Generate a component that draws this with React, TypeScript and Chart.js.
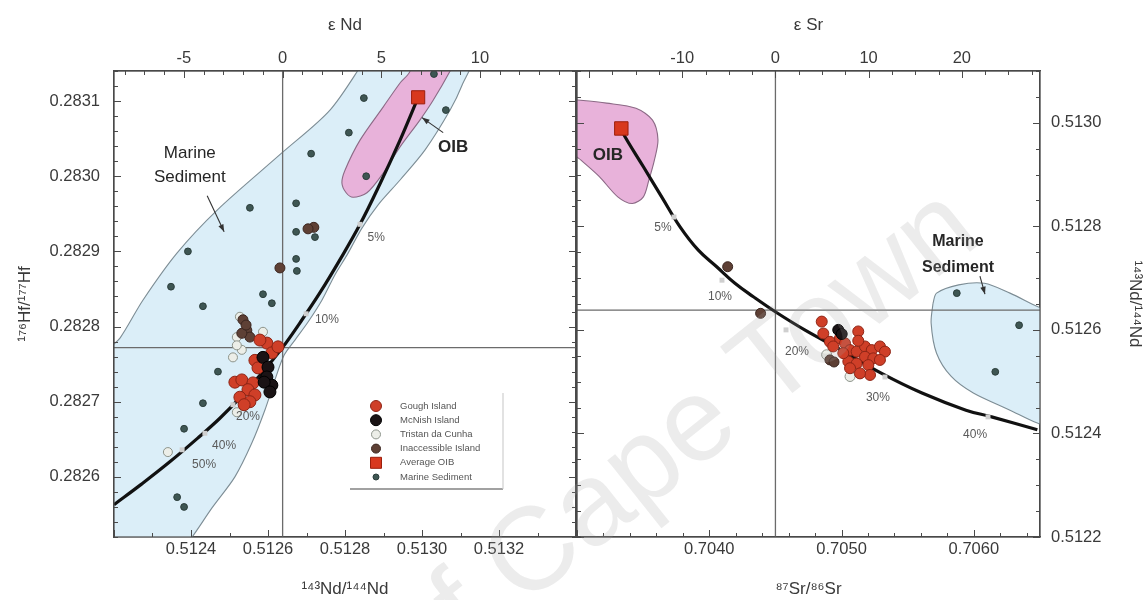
import { useEffect, useRef } from 'react';
import { Chart, registerables } from 'chart.js';

Chart.register(...registerables);

type Pt = [number, number];

const FONT = '"Liberation Sans", Arial, Helvetica, sans-serif';
const TEXT = '#3a3a3a';
const AXIS = '#4a4a4a';

// Bulk-earth reference ratios (cross-hairs and epsilon axes)
const CHUR_ND = 0.512638;
const CHUR_HF = 0.282772;
const BULK_SR = 0.7045;

// Axis ranges
const ndRangeLeft: Pt = [0.5122, 0.5134];
const hfRange: Pt = [0.28252, 0.28314];
const srRange: Pt = [0.703, 0.7065];
const ndRangeRight: Pt = [0.5122, 0.5131];

// Labelled tick values
const ndTicks = [0.5124, 0.5126, 0.5128, 0.513, 0.5132];
const hfTicks = [0.2826, 0.2827, 0.2828, 0.2829, 0.283, 0.2831];
const srTicks = [0.704, 0.705, 0.706];
const ndRightTicks = [0.5122, 0.5124, 0.5126, 0.5128, 0.513];
const epsNdTicks = [-5, 0, 5, 10];
const epsSrTicks = [-10, 0, 10, 20];

// ---- Hf–Nd panel: [143Nd/144Nd, 176Hf/177Hf] ----
const goughHfNd: Pt[] = [
  [0.512597, 0.282778], [0.51261, 0.282765], [0.512626, 0.282773], [0.512579, 0.282782],
  [0.512566, 0.282755], [0.512574, 0.282745], [0.512514, 0.282726], [0.512532, 0.282729],
  [0.512561, 0.282725], [0.512548, 0.282716], [0.512527, 0.282706], [0.512566, 0.282709],
  [0.512553, 0.2827], [0.512538, 0.282696],
];
const mcnishHfNd: Pt[] = [
  [0.512587, 0.282759], [0.5126, 0.282746], [0.512597, 0.282733],
  [0.51261, 0.282722], [0.51259, 0.282726], [0.512605, 0.282713],
];
const tristanHfNd: Pt[] = [
  [0.512527, 0.282813], [0.512519, 0.282786], [0.512509, 0.282759], [0.512532, 0.282769],
  [0.512587, 0.282793], [0.512519, 0.282775], [0.51234, 0.282633], [0.512519, 0.282686],
];
const inaccessibleHfNd: Pt[] = [
  [0.512535, 0.282809], [0.512545, 0.282795], [0.512553, 0.282786], [0.512532, 0.282791],
  [0.512543, 0.282802], [0.512631, 0.282878], [0.512719, 0.282932], [0.512704, 0.28293],
];
const oibHfNd: Pt[] = [[0.51299, 0.283105]];
const sedimentHfNd: Pt[] = [
  [0.513031, 0.283136], [0.512849, 0.283104], [0.513062, 0.283088], [0.51281, 0.283058],
  [0.512712, 0.28303], [0.512855, 0.283], [0.512553, 0.282958], [0.512673, 0.282964],
  [0.512673, 0.282926], [0.512722, 0.282919], [0.512392, 0.2829], [0.512673, 0.28289],
  [0.512675, 0.282874], [0.512348, 0.282853], [0.512587, 0.282843], [0.51261, 0.282831],
  [0.512431, 0.282827], [0.51247, 0.28274], [0.512431, 0.282698], [0.512382, 0.282664],
  [0.512364, 0.282573], [0.512382, 0.28256],
];
const mixingHfNd: Pt[] = [
  [0.51299, 0.283105], [0.512943, 0.283048], [0.512891, 0.28299], [0.512839, 0.282936],
  [0.512787, 0.282889], [0.512735, 0.282845], [0.512683, 0.282805], [0.512636, 0.282771],
  [0.512579, 0.282735], [0.512527, 0.282705], [0.512475, 0.282678], [0.512423, 0.282654],
  [0.512345, 0.28262], [0.512268, 0.282589], [0.5122, 0.282563],
];
const mixingMarksHfNd: Pt[] = [
  [0.512839, 0.282936], [0.512699, 0.282817], [0.512509, 0.282696],
  [0.512436, 0.282658], [0.512377, 0.282636],
];
const sedimentFieldHfNd: Pt[] = [
  [0.512852, 0.283155], [0.513125, 0.283155], [0.513104, 0.283121], [0.513073, 0.283088],
  [0.513008, 0.283035], [0.512943, 0.282995], [0.512886, 0.282962], [0.512844, 0.282931],
  [0.512805, 0.282895], [0.512774, 0.282869], [0.51274, 0.282835], [0.512704, 0.282806],
  [0.51267, 0.282782], [0.512642, 0.282762], [0.512618, 0.282729], [0.512592, 0.282689],
  [0.512558, 0.282645], [0.512514, 0.2826], [0.512455, 0.282559], [0.512403, 0.28252],
  [0.512366, 0.282496], [0.512164, 0.282496], [0.512164, 0.282755], [0.512216, 0.282785],
  [0.512275, 0.282835], [0.512364, 0.282898], [0.512468, 0.282955], [0.512636, 0.283031],
  [0.512761, 0.283088], [0.512852, 0.283155],
];
const oibFieldHfNd: Pt[] = [
  [0.512956, 0.283155], [0.512969, 0.28314], [0.512943, 0.283124], [0.512899, 0.283092],
  [0.512839, 0.283048], [0.5128, 0.283008], [0.512792, 0.282991], [0.512803, 0.282978],
  [0.512821, 0.282972], [0.512857, 0.282978], [0.512899, 0.283004], [0.512943, 0.283039],
  [0.512995, 0.283075], [0.513029, 0.283101], [0.513073, 0.28314], [0.513086, 0.283155],
  [0.512956, 0.283155],
];

// ---- Nd–Sr panel: [87Sr/86Sr, 143Nd/144Nd] ----
const goughSrNd: Pt[] = [
  [0.70485, 0.512616], [0.704862, 0.512593], [0.704912, 0.512577], [0.704988, 0.512584],
  [0.705026, 0.512574], [0.705126, 0.512597], [0.705064, 0.512561], [0.705114, 0.512558],
  [0.705177, 0.512568], [0.705228, 0.512561], [0.70529, 0.512568], [0.705328, 0.512558],
  [0.705177, 0.512548], [0.70524, 0.512545], [0.70529, 0.512542], [0.705051, 0.512539],
  [0.705114, 0.512535], [0.705202, 0.512532], [0.705064, 0.512526], [0.705215, 0.512513],
  [0.705139, 0.512516], [0.704937, 0.512568], [0.705013, 0.512555], [0.705126, 0.512579],
];
const mcnishSrNd: Pt[] = [[0.704975, 0.5126], [0.705001, 0.512592]];
const tristanSrNd: Pt[] = [[0.705064, 0.51251], [0.704887, 0.512552]];
const inaccessibleSrNd: Pt[] = [
  [0.704139, 0.512722], [0.704388, 0.512632], [0.704912, 0.512542], [0.704943, 0.512538],
];
const oibSrNd: Pt[] = [[0.703335, 0.512989]];
const sedimentSrNd: Pt[] = [[0.705871, 0.512671], [0.706342, 0.512609], [0.706162, 0.512519]];
const mixingSrNd: Pt[] = [
  [0.703335, 0.512989], [0.703363, 0.512973], [0.703502, 0.512915], [0.70364, 0.512857],
  [0.703779, 0.512799], [0.703917, 0.512754], [0.704056, 0.512722], [0.704194, 0.51269],
  [0.704333, 0.512664], [0.704499, 0.512635], [0.704721, 0.5126], [0.704998, 0.512561],
  [0.705303, 0.512516], [0.705608, 0.512478], [0.70594, 0.512445], [0.706134, 0.512432],
  [0.70648, 0.512407],
];
const mixingMarksSrNd: Pt[] = [
  [0.703733, 0.512818], [0.704096, 0.512696], [0.70458, 0.5126],
  [0.705328, 0.512509], [0.706107, 0.512432],
];
const oibFieldSrNd: Pt[] = [
  [0.702975, 0.513044], [0.703003, 0.513044], [0.703224, 0.513038], [0.703446, 0.513028],
  [0.703571, 0.513005], [0.703612, 0.512967], [0.703585, 0.512928], [0.703543, 0.512889],
  [0.703502, 0.512857], [0.703418, 0.512844], [0.703308, 0.512857], [0.703169, 0.512896],
  [0.70303, 0.512928], [0.702975, 0.512941], [0.702975, 0.513044],
];
const sedimentFieldSrNd: Pt[] = [
  [0.705691, 0.512651], [0.705718, 0.512671], [0.705885, 0.512687], [0.706079, 0.51269],
  [0.706273, 0.512671], [0.70648, 0.512645], [0.706605, 0.512632], [0.706605, 0.512413],
  [0.70648, 0.51242], [0.706273, 0.512445], [0.705996, 0.512478], [0.705829, 0.51251],
  [0.705718, 0.512555], [0.705677, 0.512613], [0.705691, 0.512651],
];

// Mixing-proportion labels
const percentLabelsHfNd: { text: string; at: Pt }[] = [
  { text: '5%', at: [0.512881, 0.282918] },
  { text: '10%', at: [0.512753, 0.282809] },
  { text: '20%', at: [0.512548, 0.28268] },
  { text: '40%', at: [0.512486, 0.282642] },
  { text: '50%', at: [0.512434, 0.282616] },
];
const percentLabelsSrNd: { text: string; at: Pt }[] = [
  { text: '5%', at: [0.70365, 0.512797] },
  { text: '10%', at: [0.704081, 0.512664] },
  { text: '20%', at: [0.704663, 0.512557] },
  { text: '30%', at: [0.705275, 0.51247] },
  { text: '40%', at: [0.706009, 0.512397] },
];

const legendOrder = [
  'Gough Island', 'McNish Island', 'Tristan da Cunha',
  'Inaccessible Island', 'Average OIB', 'Marine Sediment',
];

const epsNd = (r: number) => (r / CHUR_ND - 1) * 1e4;
const epsSr = (r: number) => (r / BULK_SR - 1) * 1e4;

const COLORS = {
  gough: ['#cf3f28', '#8e2415'],
  mcnish: ['#1a1315', '#000000'],
  tristan: ['#eceee8', '#8d948b'],
  inaccessible: ['#5e4035', '#3b2620'],
  oib: ['#d8381e', '#9c1f0c'],
  sediment: ['#3e5653', '#2c3e3c'],
  sedField: ['#dbeef8', '#7d8d95'],
  oibField: ['#e8b2da', '#8c6a86'],
};

const toXY = (pts: Pt[]) => pts.map(([x, y]) => ({ x, y }));

function pointSet(label: string, pts: Pt[], c: string[], radius: number, legendRadius: number, style = 'circle', order = 1) {
  return {
    label, data: toXY(pts), showLine: false, pointStyle: style, pointRadius: radius,
    backgroundColor: c[0], borderColor: c[1], pointBorderWidth: 1, borderWidth: 1,
    order, legendRadius, xAxisID: 'x', yAxisID: 'y',
  };
}
function lineSet(label: string, pts: Pt[], color: string, width: number, order: number, tension = 0) {
  return {
    label, data: toXY(pts), showLine: true, pointRadius: 0, borderColor: color,
    borderWidth: width, tension, fill: false, order, xAxisID: 'x', yAxisID: 'y',
  };
}
function fieldSet(label: string, pts: Pt[], c: string[], order: number) {
  return {
    label, data: toXY(pts), showLine: true, pointRadius: 0, backgroundColor: c[0],
    borderColor: c[1], borderWidth: 1.1, tension: 0.3, fill: 'shape', order,
    xAxisID: 'x', yAxisID: 'y',
  };
}
function marksSet(pts: Pt[]) {
  return {
    label: 'marks', data: toXY(pts), showLine: false, pointStyle: 'rect', pointRadius: 3.5,
    backgroundColor: '#cfcfcf', borderColor: '#cfcfcf', borderWidth: 0, order: 2,
    xAxisID: 'x', yAxisID: 'y',
  };
}

const tickFont = { family: FONT, size: 16.5 };
const titleFont = { family: FONT, size: 17 };

function scale(
  position: string, min: number, max: number, size: number, values: number[],
  format: (v: number) => string, title: string | null, titlePad: any, tickPad: number,
) {
  const horizontal = position === 'top' || position === 'bottom';
  return {
    type: 'linear', position, min, max,
    afterFit: (s: any) => { if (horizontal) s.height = size; else s.width = size; },
    afterBuildTicks: (s: any) => { s.ticks = values.map((value) => ({ value })); },
    grid: { display: false, drawTicks: false },
    border: { display: true, color: AXIS, width: 1.2 },
    ticks: {
      display: values.length > 0, autoSkip: false, maxRotation: 0, minRotation: 0,
      padding: tickPad, color: TEXT, font: tickFont, callback: (v: any) => format(Number(v)),
    },
    title: { display: !!title, text: title || '', color: TEXT, font: titleFont, padding: titlePad },
  };
}

const fixed4 = (v: number) => v.toFixed(4);
const whole = (v: number) => String(Math.round(v));

type TickSpec = { scale: string; side: 'top' | 'bottom' | 'left' | 'right'; step: number; majorEvery: number };

// Inward-pointing major/minor tick marks plus the frame, drawn over the data
function inwardTicks(specs: TickSpec[]) {
  return {
    id: 'inwardTicks',
    afterDatasetsDraw(chart: any) {
      const { ctx, chartArea: a } = chart;
      ctx.save();
      ctx.strokeStyle = AXIS;
      ctx.lineWidth = 1;
      ctx.beginPath();
      for (const sp of specs) {
        const s = chart.scales[sp.scale];
        const i0 = Math.ceil(s.min / sp.step - 1e-6);
        const i1 = Math.floor(s.max / sp.step + 1e-6);
        for (let i = i0; i <= i1; i++) {
          const len = Math.abs(i % sp.majorEvery) === 0 ? 7 : 4;
          const p = Math.round(s.getPixelForValue(i * sp.step)) + 0.5;
          if (sp.side === 'bottom') { ctx.moveTo(p, a.bottom); ctx.lineTo(p, a.bottom - len); }
          if (sp.side === 'top') { ctx.moveTo(p, a.top); ctx.lineTo(p, a.top + len); }
          if (sp.side === 'left') { ctx.moveTo(a.left, p); ctx.lineTo(a.left + len, p); }
          if (sp.side === 'right') { ctx.moveTo(a.right, p); ctx.lineTo(a.right - len, p); }
        }
      }
      ctx.stroke();
      ctx.lineWidth = 1.2;
      ctx.strokeRect(a.left, a.top, a.right - a.left, a.bottom - a.top);
      ctx.restore();
    },
  };
}

type Note = { text: string; at: Pt; font: string; color: string };
type Arrow = { from: Pt; to: Pt };

function annotations(notes: Note[], arrows: Arrow[]) {
  return {
    id: 'annotations',
    afterDatasetsDraw(chart: any) {
      const { ctx } = chart;
      const xs = chart.scales.x;
      const ys = chart.scales.y;
      const px = (p: Pt) => [xs.getPixelForValue(p[0]), ys.getPixelForValue(p[1])];
      ctx.save();
      ctx.textAlign = 'center';
      ctx.textBaseline = 'middle';
      for (const n of notes) {
        const [x, y] = px(n.at);
        ctx.font = n.font;
        ctx.fillStyle = n.color;
        ctx.fillText(n.text, x, y);
      }
      ctx.strokeStyle = '#333';
      ctx.fillStyle = '#333';
      ctx.lineWidth = 1.1;
      for (const ar of arrows) {
        const [x1, y1] = px(ar.from);
        const [x2, y2] = px(ar.to);
        ctx.beginPath();
        ctx.moveTo(x1, y1);
        ctx.lineTo(x2, y2);
        ctx.stroke();
        const ang = Math.atan2(y2 - y1, x2 - x1);
        ctx.beginPath();
        ctx.moveTo(x2, y2);
        ctx.lineTo(x2 - 8 * Math.cos(ang - 0.35), y2 - 8 * Math.sin(ang - 0.35));
        ctx.lineTo(x2 - 8 * Math.cos(ang + 0.35), y2 - 8 * Math.sin(ang + 0.35));
        ctx.closePath();
        ctx.fill();
      }
      ctx.restore();
    },
  };
}

// Symbol key in the lower-right of the Hf–Nd panel
const sampleLegend = {
  id: 'sampleLegend',
  afterDatasetsDraw(chart: any) {
    const { ctx, chartArea: a } = chart;
    const x0 = a.left + 262;
    const y0 = a.top + 335;
    const step = 14.2;
    ctx.save();
    legendOrder.forEach((label, i) => {
      const ds = chart.data.datasets.find((d: any) => d.label === label);
      if (!ds) return;
      const y = y0 + i * step;
      const r = ds.legendRadius;
      ctx.fillStyle = ds.backgroundColor;
      ctx.strokeStyle = ds.borderColor;
      ctx.lineWidth = 1;
      ctx.beginPath();
      if (ds.pointStyle === 'rect') ctx.rect(x0 - r, y - r, 2 * r, 2 * r);
      else ctx.arc(x0, y, r, 0, Math.PI * 2);
      ctx.fill();
      ctx.stroke();
      ctx.fillStyle = '#555';
      ctx.font = `9.5px ${FONT}`;
      ctx.textBaseline = 'middle';
      ctx.textAlign = 'left';
      ctx.fillText(label, x0 + 24, y);
    });
    ctx.strokeStyle = '#444';
    ctx.lineWidth = 1.2;
    ctx.beginPath();
    ctx.moveTo(a.left + 236, a.top + 418);
    ctx.lineTo(a.left + 389, a.top + 418);
    ctx.stroke();
    ctx.strokeStyle = '#cfcfcf';
    ctx.beginPath();
    ctx.moveTo(a.left + 389, a.top + 322);
    ctx.lineTo(a.left + 389, a.top + 418);
    ctx.stroke();
    ctx.restore();
  },
};

// Faint diagonal archive stamp across both panels
const stamp = {
  id: 'stamp',
  afterDraw(chart: any) {
    const { ctx } = chart;
    ctx.save();
    ctx.translate(522, 608);
    ctx.rotate((-38.5 * Math.PI) / 180);
    ctx.font = `118px ${FONT}`;
    ctx.fillStyle = 'rgba(160,160,160,0.2)';
    ctx.textBaseline = 'alphabetic';
    const lead = ctx.measureText('University of ').width;
    ctx.fillText('University of Cape Town', -lead, 0);
    ctx.restore();
  },
};

const notePct = (p: { text: string; at: Pt }): Note => ({ text: p.text, at: p.at, font: `12px ${FONT}`, color: '#5a5a5a' });

const baseOptions = {
  responsive: false, animation: false, events: [],
  plugins: { legend: { display: false }, tooltip: { enabled: false } },
};

function leftConfig(): any {
  const datasets = [
    pointSet('Average OIB', oibHfNd, COLORS.oib, 9.3, 5.5, 'rect', 0),
    pointSet('McNish Island', mcnishHfNd, COLORS.mcnish, 6, 5.5, 'circle', 1),
    pointSet('Gough Island', goughHfNd, COLORS.gough, 6, 5.5, 'circle', 1),
    pointSet('Inaccessible Island', inaccessibleHfNd, COLORS.inaccessible, 5, 4.5, 'circle', 1),
    pointSet('Tristan da Cunha', tristanHfNd, COLORS.tristan, 4.5, 4.5, 'circle', 1),
    pointSet('Marine Sediment', sedimentHfNd, COLORS.sediment, 3.4, 3, 'circle', 1),
    marksSet(mixingMarksHfNd),
    lineSet('mixing', mixingHfNd, '#111', 3.2, 3, 0.4),
    lineSet('chur-nd', [[CHUR_ND, hfRange[0]], [CHUR_ND, hfRange[1]]], '#6b6b6b', 1.3, 4),
    lineSet('chur-hf', [[ndRangeLeft[0], CHUR_HF], [ndRangeLeft[1], CHUR_HF]], '#6b6b6b', 1.3, 4),
    fieldSet('OIB field', oibFieldHfNd, COLORS.oibField, 5),
    fieldSet('Sediment field', sedimentFieldHfNd, COLORS.sedField, 6),
  ];
  const notes: Note[] = [
    { text: 'Marine', at: [0.512397, 0.283031], font: `17px ${FONT}`, color: '#262626' },
    { text: 'Sediment', at: [0.512397, 0.282999], font: `17px ${FONT}`, color: '#262626' },
    { text: 'OIB', at: [0.513081, 0.283039], font: `bold 17px ${FONT}`, color: '#262626' },
    ...percentLabelsHfNd.map(notePct),
  ];
  const arrows: Arrow[] = [
    { from: [0.512442, 0.282974], to: [0.512486, 0.282926] },
    { from: [0.513055, 0.283058], to: [0.513, 0.283078] },
  ];
  return {
    type: 'scatter',
    data: { datasets },
    options: {
      ...baseOptions,
      layout: { padding: { left: 0, right: 570, top: 0, bottom: 0 } },
      scales: {
        x: scale('bottom', ndRangeLeft[0], ndRangeLeft[1], 63, ndTicks, fixed4, '¹⁴³Nd/¹⁴⁴Nd', { top: 0, bottom: 0 }, 3),
        xTop: scale('top', epsNd(ndRangeLeft[0]), epsNd(ndRangeLeft[1]), 71, epsNdTicks, whole, 'ε Nd', { top: 15, bottom: 0 }, 3),
        y: scale('left', hfRange[0], hfRange[1], 114, hfTicks, fixed4, '¹⁷⁶Hf/¹⁷⁷Hf', { top: 15, bottom: 0 }, 14),
        yR: scale('right', hfRange[0], hfRange[1], 0, [], fixed4, null, 0, 0),
      },
    },
    plugins: [
      inwardTicks([
        { scale: 'x', side: 'bottom', step: 0.0001, majorEvery: 2 },
        { scale: 'xTop', side: 'top', step: 1, majorEvery: 5 },
        { scale: 'y', side: 'left', step: 0.00002, majorEvery: 5 },
        { scale: 'yR', side: 'right', step: 0.00002, majorEvery: 5 },
      ]),
      annotations(notes, arrows),
      sampleLegend,
    ],
  };
}

function rightConfig(): any {
  const datasets = [
    pointSet('Average OIB', oibSrNd, COLORS.oib, 9.5, 5.5, 'rect', 0),
    pointSet('McNish Island', mcnishSrNd, COLORS.mcnish, 5.5, 5.5, 'circle', 1),
    pointSet('Gough Island', goughSrNd, COLORS.gough, 5.5, 5.5, 'circle', 1),
    pointSet('Inaccessible Island', inaccessibleSrNd, COLORS.inaccessible, 5, 4.5, 'circle', 1),
    pointSet('Tristan da Cunha', tristanSrNd, COLORS.tristan, 5, 4.5, 'circle', 1),
    pointSet('Marine Sediment', sedimentSrNd, COLORS.sediment, 3.4, 3, 'circle', 1),
    marksSet(mixingMarksSrNd),
    lineSet('mixing', mixingSrNd, '#111', 3.2, 3, 0.4),
    lineSet('ur-sr', [[BULK_SR, ndRangeRight[0]], [BULK_SR, ndRangeRight[1]]], '#6b6b6b', 1.3, 4),
    lineSet('chur-nd', [[srRange[0], CHUR_ND], [srRange[1], CHUR_ND]], '#6b6b6b', 1.3, 4),
    fieldSet('OIB field', oibFieldSrNd, COLORS.oibField, 5),
    fieldSet('Sediment field', sedimentFieldSrNd, COLORS.sedField, 6),
  ];
  const notes: Note[] = [
    { text: 'Marine', at: [0.70588, 0.51277], font: `bold 16px ${FONT}`, color: '#262626' },
    { text: 'Sediment', at: [0.70588, 0.512721], font: `bold 16px ${FONT}`, color: '#262626' },
    { text: 'OIB', at: [0.703234, 0.512938], font: `bold 17px ${FONT}`, color: '#262626' },
    ...percentLabelsSrNd.map(notePct),
  ];
  const arrows: Arrow[] = [{ from: [0.706046, 0.512704], to: [0.706084, 0.512669] }];
  return {
    type: 'scatter',
    data: { datasets },
    options: {
      ...baseOptions,
      layout: { padding: { left: 577, right: 0, top: 0, bottom: 0 } },
      scales: {
        x: scale('bottom', srRange[0], srRange[1], 63, srTicks, fixed4, '⁸⁷Sr/⁸⁶Sr', { top: 0, bottom: 0 }, 3),
        xTop: scale('top', epsSr(srRange[0]), epsSr(srRange[1]), 71, epsSrTicks, whole, 'ε Sr', { top: 15, bottom: 0 }, 3),
        yL: scale('left', ndRangeRight[0], ndRangeRight[1], 0, [], fixed4, null, 0, 0),
        y: scale('right', ndRangeRight[0], ndRangeRight[1], 106, ndRightTicks, fixed4, '¹⁴³Nd/¹⁴⁴Nd', { top: 1, bottom: 0 }, 11),
      },
    },
    plugins: [
      inwardTicks([
        { scale: 'x', side: 'bottom', step: 0.0002, majorEvery: 5 },
        { scale: 'xTop', side: 'top', step: 2.5, majorEvery: 4 },
        { scale: 'yL', side: 'left', step: 0.00005, majorEvery: 4 },
        { scale: 'y', side: 'right', step: 0.00005, majorEvery: 4 },
      ]),
      annotations(notes, arrows),
      stamp,
    ],
  };
}

export default function App() {
  const leftRef = useRef<HTMLCanvasElement>(null);
  const rightRef = useRef<HTMLCanvasElement>(null);
  useEffect(() => {
    const left = new Chart(leftRef.current as HTMLCanvasElement, leftConfig());
    const right = new Chart(rightRef.current as HTMLCanvasElement, rightConfig());
    return () => {
      left.destroy();
      right.destroy();
    };
  }, []);
  const cs: any = { position: 'absolute', left: 0, top: 0, width: 1146, height: 600 };
  return (
    <div style={{ position: 'fixed', left: 0, top: 0, width: 1146, height: 600, overflow: 'hidden', background: '#fff' }}>
      <canvas ref={leftRef} width={1146} height={600} style={cs} />
      <canvas ref={rightRef} width={1146} height={600} style={cs} />
    </div>
  );
}
